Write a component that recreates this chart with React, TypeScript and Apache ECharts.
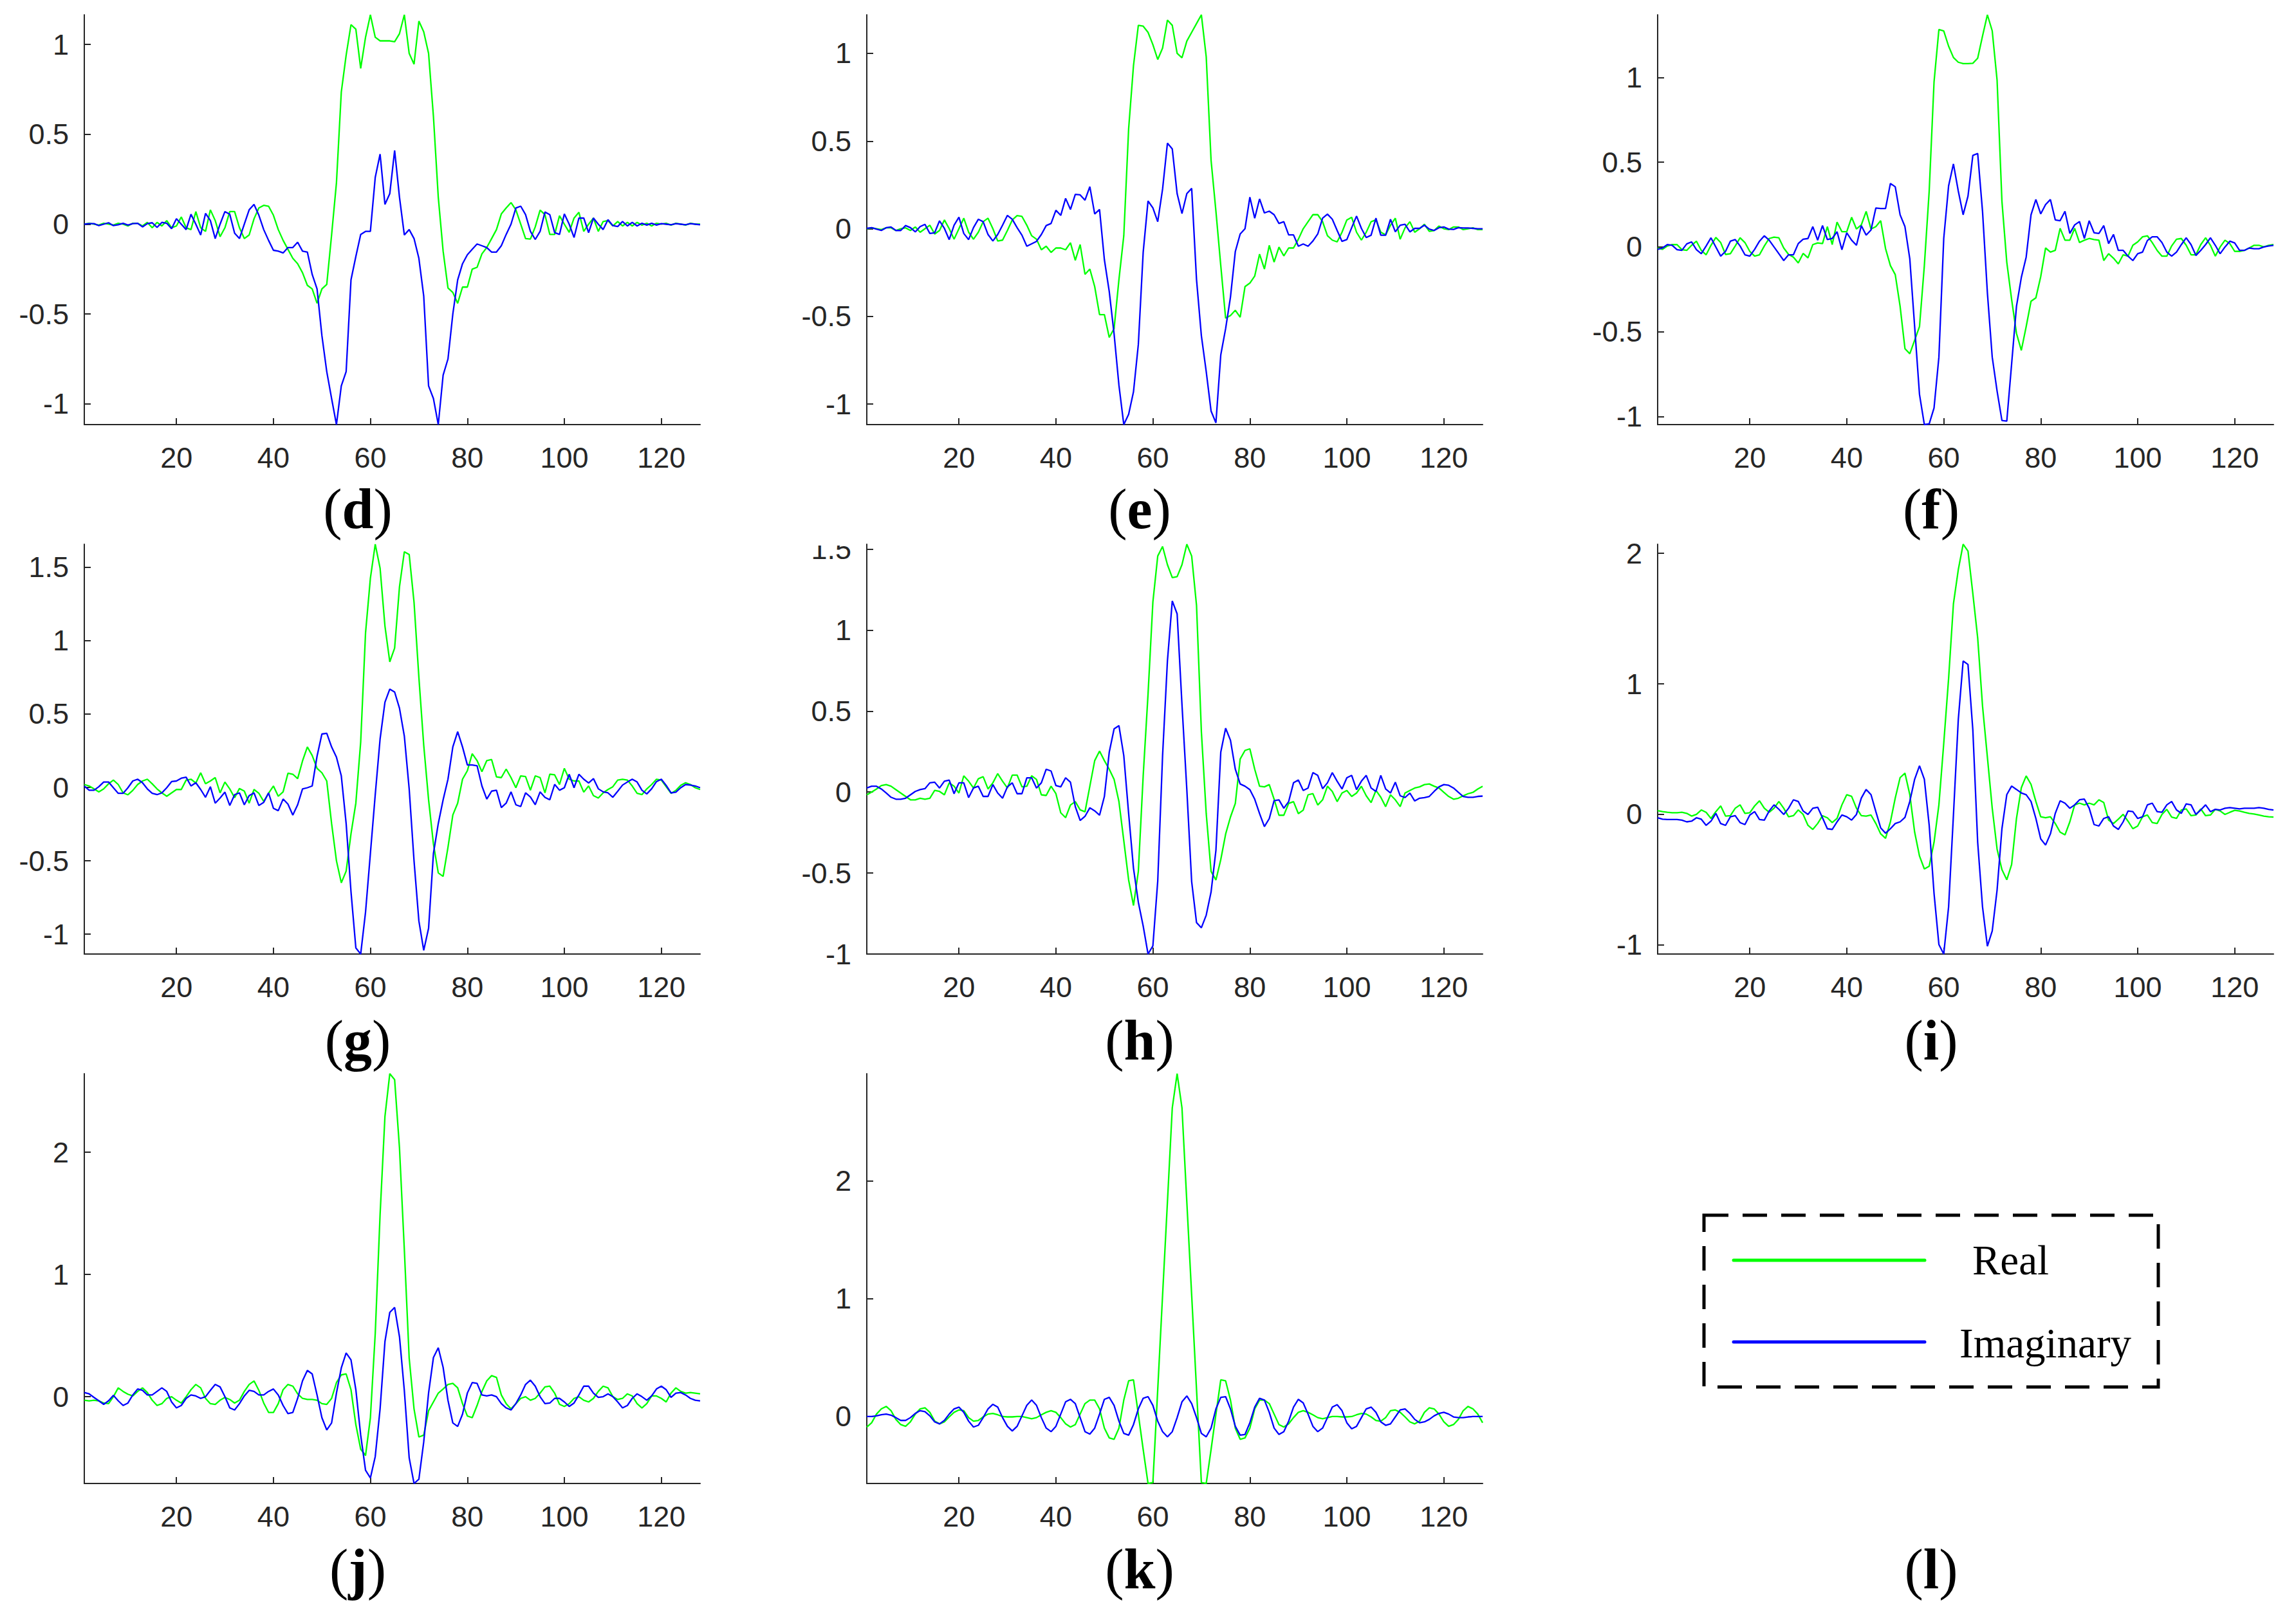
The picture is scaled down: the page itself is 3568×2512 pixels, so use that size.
import { useEffect, useRef } from "react";
import * as echarts from "echarts";

// ---- tick labels ----
const X_TICKS = [20, 40, 60, 80, 100, 120];
const Y_TICKS_A = [-1, -0.5, 0, 0.5, 1];
const Y_TICKS_B = [-1, -0.5, 0, 0.5, 1, 1.5];
const Y_TICKS_C = [-1, 0, 1, 2];
const Y_TICKS_D = [0, 1, 2];
const PANEL_LABELS = ["d", "e", "f", "g", "h", "i", "j", "k", "l"];
const LEGEND_NAMES = ["Real", "Imaginary"];

// ---- series values (index 1..128) ----
const dRe = [
  0, 0.005, 0, -0.005, 0.005, 0, -0.005, 0.005, 0, -0.01, 0.005, 0.005, -0.01, 0.01, -0.02, 0.01,
  -0.01, 0.02, -0.02, -0.01, 0.04, -0.02, -0.03, 0.07, -0.02, -0.04, 0.08, 0.02, -0.07, -0.02, 0.07, 0.07,
  -0.02, -0.08, -0.06, 0.03, 0.09, 0.105, 0.1, 0.05, -0.03, -0.09, -0.14, -0.19, -0.22, -0.27, -0.34, -0.36,
  -0.44, -0.36, -0.335, -0.06, 0.23, 0.735, 0.94, 1.11, 1.085, 0.867, 1.04, 1.165, 1.04, 1.02, 1.02, 1.02,
  1.015, 1.06, 1.165, 0.95, 0.89, 1.13, 1.07, 0.95, 0.6, 0.15, -0.15, -0.355, -0.38, -0.44, -0.35, -0.35,
  -0.25, -0.24, -0.165, -0.13, -0.08, -0.03, 0.057, 0.09, 0.12, 0.08, 0, -0.08, -0.083, -0.015, 0.078, 0.053,
  -0.057, -0.057, 0.047, 0, -0.045, 0.034, 0.066, -0.04, 0, 0.034, -0.04, 0.015, 0.02, -0.01, 0.015, -0.01,
  0.01, -0.01, 0.01, -0.005, 0.005, -0.01, 0.005, 0, 0.005, -0.005, 0.005, 0, -0.005, 0.005, 0, 0,
];
const dIm = [
  0, 0.003, 0.003, -0.008, 0, 0.008, -0.008, -0.003, 0.005, -0.005, 0.003, 0.005, -0.015, 0.003, 0.008, -0.018,
  0.01, 0.005, -0.025, 0.03, 0, -0.03, 0.055, 0, -0.06, 0.06, 0.02, -0.08, 0, 0.07, 0.055, -0.05,
  -0.08, 0, 0.08, 0.11, 0.05, -0.03, -0.09, -0.145, -0.15, -0.16, -0.13, -0.13, -0.1, -0.15, -0.155, -0.28,
  -0.36, -0.62, -0.82, -0.97, -1.115, -0.9, -0.82, -0.31, -0.18, -0.057, -0.04, -0.04, 0.26, 0.39, 0.11, 0.17,
  0.41, 0.15, -0.06, -0.03, -0.08, -0.19, -0.4, -0.9, -0.97, -1.115, -0.84, -0.75, -0.5, -0.31, -0.22, -0.17,
  -0.14, -0.11, -0.12, -0.13, -0.155, -0.155, -0.12, -0.057, 0, 0.09, 0.1, 0.053, -0.04, -0.085, -0.04, 0.068,
  0.053, -0.047, -0.057, 0.057, 0, -0.074, 0.034, 0.034, -0.047, 0.034, 0, -0.03, 0.025, -0.008, -0.013, 0.015,
  -0.01, 0.01, -0.01, 0.005, -0.005, 0.005, -0.005, 0.003, 0, -0.003, 0.003, 0, -0.003, 0.003, 0, -0.003,
];
const eRe = [
  0, 0.005, 0, -0.005, 0.005, 0.005, -0.01, 0, 0.005, -0.01, 0.01, -0.02, 0, 0.02, -0.03, -0.01,
  0.05, 0, -0.06, 0, 0.06, -0.02, -0.06, -0.02, 0.04, 0.06, 0, -0.07, -0.065, -0.01, 0.05, 0.075,
  0.07, 0.02, -0.04, -0.06, -0.12, -0.1, -0.135, -0.11, -0.11, -0.12, -0.08, -0.18, -0.09, -0.26, -0.23, -0.33,
  -0.49, -0.49, -0.62, -0.57, -0.29, -0.04, 0.57, 0.93, 1.16, 1.155, 1.12, 1.05, 0.965, 1.03, 1.19, 1.16,
  1.0, 0.975, 1.07, 1.12, 1.17, 1.22, 0.98, 0.39, 0.1, -0.21, -0.51, -0.495, -0.465, -0.505, -0.33, -0.31,
  -0.27, -0.145, -0.23, -0.095, -0.19, -0.105, -0.155, -0.11, -0.11, -0.06, 0, 0.04, 0.08, 0.08, 0.04, -0.04,
  -0.065, -0.075, -0.02, 0.05, 0.065, -0.02, -0.065, -0.02, 0.04, 0.05, -0.02, -0.035, 0.02, 0.06, -0.06, 0.005,
  0.04, -0.02, 0, 0.025, -0.015, -0.01, 0.015, 0, -0.005, 0.01, 0.01, -0.005, 0, 0.005, -0.005, -0.005,
];
const eIm = [
  0.002, 0.006, -0.002, -0.01, 0.006, 0.01, -0.01, -0.01, 0.018, 0.006, -0.018, 0.012, 0.025, -0.027, -0.023, 0.045,
  0.002, -0.062, 0.02, 0.066, -0.027, -0.062, 0.006, 0.054, 0.04, -0.033, -0.07, -0.033, 0.02, 0.076, 0.054, 0.006,
  -0.037, -0.1, -0.086, -0.072, -0.033, 0.018, 0.03, 0.105, 0.076, 0.173, 0.11, 0.196, 0.193, 0.163, 0.24, 0.084,
  0.11, -0.177, -0.358, -0.6, -0.893, -1.117, -1.058, -0.93, -0.66, -0.134, 0.158, 0.119, 0.04, 0.226, 0.488, 0.455,
  0.2, 0.086, 0.2, 0.23, -0.29, -0.61, -0.815, -1.04, -1.107, -0.72, -0.57, -0.39, -0.13, -0.03, 0, 0.18,
  0.06, 0.17, 0.09, 0.1, 0.08, 0.03, 0.04, -0.035, -0.035, -0.1, -0.087, -0.1, -0.07, -0.03, 0.06, 0.083,
  0.054, -0.01, -0.072, -0.062, 0.006, 0.072, 0.002, -0.05, -0.037, 0.06, -0.037, -0.037, 0.054, -0.018, 0.02, 0.025,
  -0.018, 0.002, 0.002, 0.02, -0.002, -0.01, 0.006, 0.01, -0.002, -0.004, 0.006, 0.004, 0.004, 0.002, 0, 0,
];
const fRe = [
  -0.006, -0.014, 0.006, 0.014, 0.014, -0.016, -0.02, 0.01, 0.034, -0.02, -0.046, 0.01, 0.056, 0.026, -0.044, -0.04,
  0.006, 0.054, 0.026, -0.026, -0.054, -0.046, 0.006, 0.05, 0.058, 0.054, -0.006, -0.044, -0.06, -0.094, -0.038, -0.064,
  0.014, 0.024, 0.02, 0.12, 0.014, 0.147, 0.09, 0.09, 0.175, 0.106, 0.13, 0.21, 0.106, 0.12, 0.155, -0.01,
  -0.11, -0.163, -0.35, -0.6, -0.63, -0.55, -0.47, -0.11, 0.33, 0.974, 1.283, 1.275, 1.185, 1.118, 1.09, 1.082,
  1.082, 1.084, 1.114, 1.245, 1.37, 1.275, 0.984, 0.27, -0.09, -0.31, -0.51, -0.61, -0.47, -0.32, -0.3, -0.175,
  -0.006, -0.03, -0.02, 0.11, 0.04, 0.04, 0.11, 0.026, 0.04, 0.05, 0.044, 0.04, -0.08, -0.04, -0.066, -0.1,
  -0.046, -0.054, 0.01, 0.03, 0.06, 0.066, 0.026, -0.02, -0.054, -0.054, 0.006, 0.046, 0.05, 0.01, -0.046, -0.046,
  0.014, 0.054, 0.01, -0.054, 0, 0.04, 0.02, -0.026, -0.026, -0.02, -0.006, 0.01, 0.01, 0, 0.01, 0.014,
];
const fIm = [
  -0.014, -0.006, 0.014, 0.01, -0.016, -0.02, 0.018, 0.03, -0.016, -0.04, 0.006, 0.054, 0, -0.054, -0.026, 0.034,
  0.044, 0.006, -0.046, -0.054, -0.014, 0.034, 0.066, 0.04, 0, -0.04, -0.08, -0.046, -0.046, 0.02, 0.046, 0.05,
  0.12, 0.04, 0.126, 0.044, 0.05, 0.09, -0.016, 0.084, 0.04, 0.01, 0.126, 0.07, 0.1, 0.23, 0.227, 0.227,
  0.375, 0.355, 0.19, 0.12, -0.07, -0.47, -0.87, -1.048, -1.044, -0.95, -0.65, 0.05, 0.36, 0.49, 0.33, 0.19,
  0.3, 0.54, 0.552, 0.21, -0.27, -0.65, -0.85, -1.024, -1.028, -0.69, -0.35, -0.18, -0.06, 0.19, 0.28, 0.195,
  0.25, 0.28, 0.16, 0.155, 0.21, 0.08, 0.13, 0.15, 0.05, 0.155, 0.084, 0.08, 0.126, 0.02, 0.074, -0.02,
  -0.02, -0.054, -0.08, -0.04, -0.03, 0.038, 0.06, 0.06, 0.026, -0.03, -0.054, -0.03, 0.014, 0.054, 0.014, -0.05,
  -0.02, 0.014, 0.054, 0.01, -0.04, 0, 0.034, 0.024, -0.02, -0.02, -0.006, -0.01, -0.01, 0, 0.006, 0.01,
];
const gRe = [
  0.02, 0.01, -0.01, -0.03, -0.01, 0.025, 0.05, 0.02, -0.037, -0.05, -0.02, 0.02, 0.044, 0.056, 0.025, -0.01,
  -0.037, -0.06, -0.037, -0.014, -0.014, 0.05, 0.056, 0.03, 0.1, 0.025, 0.044, 0.067, -0.037, 0.037, -0.01, -0.07,
  -0.007, -0.025, -0.107, -0.014, -0.04, -0.095, -0.04, 0.01, -0.06, -0.03, 0.097, 0.09, 0.06, 0.18, 0.276, 0.218,
  0.13, 0.1, 0.044, -0.246, -0.5, -0.65, -0.57, -0.316, -0.107, 0.31, 1.053, 1.425, 1.657, 1.494, 1.1, 0.856,
  0.95, 1.367, 1.606, 1.587, 1.262, 0.75, 0.288, -0.084, -0.385, -0.582, -0.606, -0.408, -0.188, -0.107, 0.056, 0.114,
  0.23, 0.183, 0.107, 0.183, 0.19, 0.072, 0.067, 0.125, 0.067, -0.002, 0.079, 0.074, -0.019, 0.079, 0.067, -0.037,
  0.09, 0.086, 0.02, 0.13, 0.056, 0.044, 0.044, -0.032, 0.01, -0.056, -0.072, -0.037, -0.014, 0.005, 0.05, 0.056,
  0.05, 0.01, -0.04, -0.049, -0.01, 0.02, 0.056, 0.05, 0.005, -0.04, -0.02, 0.014, 0.032, 0.02, -0.002, -0.014,
];
const gIm = [
  0.01, -0.019, -0.019, 0.005, 0.037, 0.037, -0.002, -0.04, -0.04, -0.002, 0.044, 0.056, 0.032, -0.01, -0.04, -0.049,
  -0.037, -0.002, 0.04, 0.044, 0.063, 0.07, 0.01, 0.032, -0.014, -0.067, 0.005, -0.107, -0.072, -0.032, -0.123, -0.049,
  -0.037, -0.118, -0.056, -0.037, -0.123, -0.102, -0.037, -0.142, -0.158, -0.079, -0.114, -0.188, -0.118, -0.01, -0.002, 0.01,
  0.213, 0.364, 0.369, 0.276, 0.206, 0.079, -0.246, -0.71, -1.093, -1.135, -0.85, -0.45, -0.05, 0.33, 0.58, 0.67,
  0.65, 0.54, 0.35, -0.01, -0.5, -0.91, -1.11, -0.96, -0.45, -0.246, -0.084, 0.056, 0.276, 0.38, 0.276, 0.153,
  0.153, 0.148, 0.01, -0.079, -0.025, -0.019, -0.137, -0.107, -0.03, -0.118, -0.13, -0.037, -0.065, -0.118, -0.03, -0.068,
  -0.084, 0.021, -0.019, -0.002, 0.09, -0.002, 0.09, 0.056, 0.03, 0.06, -0.009, -0.03, -0.037, -0.067, -0.026, 0.016,
  0.037, 0.056, 0.037, -0.019, -0.044, -0.009, 0.04, 0.056, 0.014, -0.037, -0.032, -0.002, 0.02, 0.016, 0.01, -0.002,
];
const hRe = [
  -0.017, 0, 0.019, 0.04, 0.046, 0.036, 0.015, -0.006, -0.027, -0.048, -0.048, -0.038, -0.044, -0.038, 0.01, 0.004,
  -0.017, 0.057, 0.036, -0.006, 0.1, 0.067, 0.025, 0.082, 0.095, 0.019, 0.057, 0.114, 0.067, 0.025, 0.105, 0.105,
  0.032, 0.036, 0.1, 0.078, -0.017, -0.021, 0.036, -0.01, -0.128, -0.158, -0.08, -0.059, -0.11, -0.122, 0.036, 0.194,
  0.253, 0.194, 0.141, 0.078, -0.059, -0.3, -0.543, -0.7, -0.49, 0.1, 0.604, 1.173, 1.457, 1.516, 1.404, 1.324,
  1.33, 1.404, 1.53, 1.457, 1.152, 0.373, -0.133, -0.49, -0.543, -0.417, -0.26, -0.154, -0.07, 0.204, 0.257, 0.267,
  0.141, 0.036, 0.032, 0.046, -0.044, -0.143, -0.143, -0.07, -0.059, -0.133, -0.112, -0.017, -0.01, -0.08, -0.048, 0.036,
  0.004, -0.059, -0.006, 0.01, -0.027, -0.006, 0.036, -0.023, -0.065, 0.01, -0.032, -0.09, -0.017, -0.048, -0.09, -0.006,
  0.01, 0.025, 0.032, 0.046, 0.05, 0.036, 0.025, -0.002, -0.027, -0.044, -0.038, -0.023, -0.01, -0.002, 0.019, 0.036,
];
const hIm = [
  0.025, 0.036, 0.036, 0.019, -0.006, -0.032, -0.044, -0.044, -0.038, -0.017, 0.004, 0.015, 0.021, 0.057, 0.061, 0.025,
  0.067, 0.074, -0.01, 0.057, 0.057, -0.034, 0.025, 0.036, -0.027, -0.027, 0.046, -0.006, -0.038, 0.032, 0.057, -0.01,
  -0.01, 0.088, 0.088, 0.025, 0.057, 0.141, 0.13, 0.04, 0.032, 0.088, 0.061, -0.09, -0.175, -0.15, -0.097, -0.116,
  -0.143, -0.027, 0.246, 0.39, 0.41, 0.225, -0.133, -0.47, -0.68, -0.827, -1.0, -0.95, -0.55, 0.225, 0.81, 1.18,
  1.1, 0.54, 0.015, -0.554, -0.806, -0.838, -0.76, -0.617, -0.36, 0.246, 0.394, 0.32, 0.141, 0.05, 0.036, 0.015,
  -0.044, -0.133, -0.213, -0.164, -0.053, -0.048, -0.1, -0.059, 0.057, 0.074, 0.01, 0.025, 0.12, 0.103, 0.021, 0.057,
  0.12, 0.067, 0.019, 0.088, 0.103, 0.015, 0.067, 0.103, 0.025, 0.004, 0.103, 0.019, -0.006, 0.061, -0.023, -0.034,
  -0.006, -0.055, -0.038, -0.034, -0.027, 0.004, 0.032, 0.046, 0.042, 0.025, -0.002, -0.027, -0.032, -0.032, -0.027, -0.025,
];
const iRe = [
  0.029, 0.021, 0.016, 0.013, 0.013, 0.016, 0.008, -0.013, 0, 0.034, 0.016, -0.031, 0.021, 0.065, -0.013, -0.01,
  0.047, 0.073, 0.008, 0.013, 0.065, 0.104, 0.047, 0.016, 0.047, 0.099, 0.047, -0.018, -0.01, 0.034, 0, -0.084,
  -0.115, -0.07, -0.01, -0.026, -0.063, -0.031, 0.073, 0.151, 0.138, 0.047, -0.01, -0.013, -0.005, -0.07, -0.149, -0.183,
  -0.057, 0.125, 0.282, 0.316, 0.151, -0.136, -0.319, -0.418, -0.397, -0.214, 0.073, 0.543, 1.04, 1.614, 1.875, 2.07,
  2.018, 1.692, 1.352, 0.83, 0.439, 0.047, -0.266, -0.423, -0.501, -0.384, -0.031, 0.204, 0.295, 0.23, 0.099, -0.018,
  -0.026, -0.018, -0.07, -0.136, -0.157, -0.057, 0.073, 0.086, 0.073, 0.086, 0.073, 0.112, 0.091, -0.044, -0.07, -0.037,
  0, -0.052, -0.11, -0.089, -0.018, -0.005, -0.063, -0.07, 0, 0.039, -0.021, -0.031, 0.034, 0.042, -0.01, -0.005,
  0.042, -0.01, -0.005, 0.039, 0.026, 0, 0.016, 0.031, 0.026, 0.016, 0.008, 0.003, -0.005, -0.013, -0.018, -0.021,
];
const iIm = [
  -0.026, -0.037, -0.039, -0.039, -0.039, -0.044, -0.057, -0.052, -0.026, -0.037, -0.084, -0.052, 0.008, -0.07, -0.084, -0.018,
  -0.01, -0.063, -0.078, -0.005, 0.021, -0.039, -0.044, 0.026, 0.073, 0.039, 0, 0.047, 0.112, 0.099, 0.026, 0,
  0.047, 0.055, -0.026, -0.11, -0.115, -0.057, -0.005, -0.018, -0.044, 0, 0.125, 0.191, 0.151, 0.021, -0.104, -0.144,
  -0.11, -0.07, -0.057, -0.023, 0.099, 0.269, 0.373, 0.269, -0.084, -0.606, -0.997, -1.07, -0.71, -0.005, 0.726, 1.175,
  1.149, 0.648, -0.214, -0.71, -1.01, -0.893, -0.58, -0.11, 0.151, 0.217, 0.191, 0.164, 0.151, 0.099, -0.031, -0.188,
  -0.235, -0.149, 0.008, 0.104, 0.086, 0.047, 0.073, 0.112, 0.117, 0.047, -0.078, -0.089, -0.031, -0.018, -0.089, -0.115,
  -0.057, 0.026, 0.021, -0.031, -0.018, 0.073, 0.086, 0.021, 0.016, 0.073, 0.099, 0.034, 0.008, 0.081, 0.073, 0,
  0.034, 0.073, 0.021, 0.039, 0.034, 0.047, 0.052, 0.047, 0.042, 0.047, 0.047, 0.047, 0.052, 0.047, 0.039, 0.034,
];
const jRe = [
  -0.029, -0.034, -0.029, -0.034, -0.052, -0.057, 0, 0.072, 0.043, 0.02, 0.006, 0.043, 0.072, 0.034, -0.029, -0.072,
  -0.057, -0.014, 0, -0.029, -0.052, 0, 0.057, 0.1, 0.072, -0.014, -0.057, -0.063, -0.029, -0.006, -0.023, -0.052,
  -0.029, 0.043, 0.1, 0.129, 0.052, -0.052, -0.129, -0.129, -0.057, 0.057, 0.1, 0.086, 0.023, -0.014, -0.023, -0.023,
  -0.029, -0.057, -0.063, -0.014, 0.115, 0.178, 0.186, 0.057, -0.229, -0.43, -0.481, -0.172, 0.516, 1.49, 2.292, 2.642,
  2.593, 2.034, 1.203, 0.315, -0.1, -0.33, -0.315, -0.115, -0.043, 0.029, 0.063, 0.1, 0.109, 0.072, -0.057, -0.158,
  -0.172, -0.072, 0.043, 0.129, 0.172, 0.158, 0.014, -0.057, -0.1, -0.057, -0.014, 0, -0.029, -0.014, 0.029, 0.08,
  0.086, 0.029, -0.063, -0.08, -0.057, -0.014, 0, -0.029, -0.043, -0.014, 0.043, 0.086, 0.072, 0, -0.023, -0.014,
  0.023, 0.006, -0.057, -0.092, -0.057, 0.006, 0.006, -0.014, -0.043, 0.029, 0.072, 0.043, 0.029, 0.034, 0.029, 0.023,
];
const jIm = [
  0.034, 0.023, -0.006, -0.034, -0.063, -0.034, 0.011, -0.034, -0.072, -0.052, 0.014, 0.063, 0.052, 0.014, 0.014, 0.043,
  0.072, 0.043, -0.043, -0.092, -0.072, -0.014, 0.014, 0.006, -0.014, 0, 0.052, 0.1, 0.08, 0, -0.092, -0.109,
  -0.057, 0.006, 0.052, 0.043, 0.014, 0.014, 0.043, 0.063, 0.014, -0.072, -0.138, -0.129, -0.014, 0.129, 0.215, 0.186,
  0.014, -0.172, -0.272, -0.215, 0.029, 0.235, 0.358, 0.301, 0.057, -0.315, -0.602, -0.665, -0.49, -0.1, 0.45, 0.69,
  0.73, 0.49, 0.05, -0.5, -0.71, -0.675, -0.37, 0.03, 0.32, 0.4, 0.24, -0.03, -0.215, -0.244, -0.143, 0.03,
  0.115, 0.109, 0.014, 0.006, 0.014, 0, -0.057, -0.092, -0.109, -0.057, 0.014, 0.1, 0.135, 0.086, 0, -0.057,
  -0.052, -0.014, -0.014, -0.043, -0.08, -0.052, 0.014, 0.086, 0.086, 0.029, -0.006, 0, 0.023, 0, -0.043, -0.092,
  -0.072, -0.014, 0.023, 0, -0.029, 0.006, 0.063, 0.086, 0.057, -0.006, 0.029, 0.034, 0.014, -0.014, -0.029, -0.034,
];
const kRe = [
  -0.089, -0.053, 0.021, 0.065, 0.086, 0.05, -0.024, -0.068, -0.083, -0.045, 0.021, 0.065, 0.074, 0.036, -0.039, -0.062,
  -0.045, -0.003, 0.036, 0.056, 0.05, -0.009, -0.039, -0.033, -0.003, 0.021, 0.027, 0.015, 0, -0.003, -0.003, 0,
  0, -0.009, -0.018, -0.009, 0.015, 0.036, 0.05, 0.036, -0.009, -0.062, -0.089, -0.068, 0.021, 0.11, 0.14, 0.14,
  0.065, -0.098, -0.181, -0.193, -0.098, 0.14, 0.303, 0.312, 0.02, -0.28, -0.568, -0.56, 0.23, 1.03, 1.82, 2.62,
  2.91, 2.62, 1.82, 1.03, 0.23, -0.56, -0.568, -0.28, 0.02, 0.312, 0.303, 0.14, -0.098, -0.193, -0.181, -0.098,
  0.065, 0.14, 0.14, 0.11, 0.021, -0.068, -0.089, -0.062, -0.009, 0.036, 0.05, 0.036, 0.015, -0.009, -0.018, -0.009,
  0, 0, -0.003, -0.003, 0, 0.015, 0.027, 0.021, -0.003, -0.033, -0.039, -0.009, 0.05, 0.056, 0.036, -0.003,
  -0.045, -0.062, -0.039, 0.036, 0.074, 0.065, 0.021, -0.045, -0.083, -0.068, -0.024, 0.05, 0.086, 0.065, 0.021, -0.053,
];
const kIm = [
  0, 0, 0.006, 0.015, 0.021, 0.012, -0.009, -0.033, -0.033, -0.009, 0.027, 0.05, 0.042, 0.006, -0.045, -0.062,
  -0.033, 0.021, 0.065, 0.08, 0.036, -0.039, -0.089, -0.074, -0.009, 0.065, 0.104, 0.08, -0.009, -0.083, -0.122, -0.083,
  0.006, 0.095, 0.14, 0.095, -0.009, -0.098, -0.128, -0.083, 0.021, 0.125, 0.146, 0.11, -0.009, -0.128, -0.149, -0.098,
  0.021, 0.146, 0.163, 0.095, -0.039, -0.143, -0.158, -0.068, 0.065, 0.155, 0.169, 0.095, -0.039, -0.128, -0.172, -0.128,
  -0.009, 0.125, 0.175, 0.11, -0.009, -0.143, -0.172, -0.098, 0.065, 0.163, 0.169, 0.065, -0.083, -0.158, -0.152, -0.053,
  0.08, 0.155, 0.14, 0.036, -0.098, -0.152, -0.128, -0.039, 0.08, 0.146, 0.116, 0.021, -0.083, -0.128, -0.098, -0.009,
  0.08, 0.101, 0.05, -0.053, -0.104, -0.083, -0.009, 0.065, 0.08, 0.036, -0.045, -0.074, -0.062, -0.003, 0.056, 0.065,
  0.027, -0.024, -0.053, -0.045, -0.024, 0.006, 0.027, 0.036, 0.021, -0.003, -0.009, -0.009, -0.003, 0, 0, 0,
];

const PANELS = [
  { re: dRe, im: dIm, yTicks: Y_TICKS_A },
  { re: eRe, im: eIm, yTicks: Y_TICKS_A },
  { re: fRe, im: fIm, yTicks: Y_TICKS_A },
  { re: gRe, im: gIm, yTicks: Y_TICKS_B },
  { re: hRe, im: hIm, yTicks: Y_TICKS_B },
  { re: iRe, im: iIm, yTicks: Y_TICKS_C },
  { re: jRe, im: jIm, yTicks: Y_TICKS_D },
  { re: kRe, im: kIm, yTicks: Y_TICKS_D },
];

// ---- layout (pixels) ----
const COL_LEFT = [131, 1347, 2576];
const ROW_TOP = [23, 846, 1669];
const PLOT_W = 957;
const PLOT_H = 637;
const LABEL_X = [556, 1771, 3001];
const LABEL_Y = [791, 1617, 2439];

const GREEN = "#00FF00";
const BLUE = "#0000FF";
const AXIS = "#262626";
const SANS = "Liberation Sans, Arial, Helvetica, sans-serif";
const SERIF = "Liberation Serif, Times New Roman, serif";

export default function App() {
  const ref = useRef<HTMLDivElement>(null);

  useEffect(() => {
    document.body.style.margin = "0";
    const chart = echarts.init(ref.current as HTMLDivElement, null, { renderer: "svg" });

    const grids: any[] = [];
    const xAxes: any[] = [];
    const yAxes: any[] = [];
    const series: any[] = [];
    const graphics: any[] = [];

    PANELS.forEach((p, k) => {
      const c = k % 3;
      const r = Math.floor(k / 3);
      grids.push({
        left: COL_LEFT[c],
        top: ROW_TOP[r],
        width: PLOT_W,
        height: PLOT_H,
        containLabel: false,
        outerBoundsMode: "none",
      });
      const all = p.re.concat(p.im);
      const yMin = Math.min(...all);
      const yMax = Math.max(...all);
      xAxes.push({
        gridIndex: k,
        type: "value",
        min: 1,
        max: 128,
        axisLine: { show: true, onZero: false, lineStyle: { color: AXIS, width: 2 } },
        axisTick: {
          show: true,
          inside: true,
          length: 10,
          lineStyle: { color: AXIS, width: 2 },
          customValues: X_TICKS,
        },
        axisLabel: {
          show: true,
          customValues: X_TICKS,
          margin: 29,
          fontSize: 45,
          color: AXIS,
          fontFamily: SANS,
        },
        splitLine: { show: false },
      });
      yAxes.push({
        gridIndex: k,
        type: "value",
        min: yMin,
        max: yMax,
        axisLine: { show: true, onZero: false, lineStyle: { color: AXIS, width: 2 } },
        axisTick: {
          show: true,
          inside: true,
          length: 10,
          lineStyle: { color: AXIS, width: 2 },
          customValues: p.yTicks,
        },
        axisLabel: {
          show: true,
          customValues: p.yTicks,
          margin: 24,
          fontSize: 45,
          color: AXIS,
          fontFamily: SANS,
          formatter: (v: number) => String(v),
        },
        splitLine: { show: false },
      });
      series.push({
        name: LEGEND_NAMES[0],
        type: "line",
        xAxisIndex: k,
        yAxisIndex: k,
        data: p.re.map((v, i) => [i + 1, v]),
        showSymbol: false,
        symbol: "none",
        color: GREEN,
        lineStyle: { color: GREEN, width: 2.3 },
        silent: true,
        z: 2,
      });
      series.push({
        name: LEGEND_NAMES[1],
        type: "line",
        xAxisIndex: k,
        yAxisIndex: k,
        data: p.im.map((v, i) => [i + 1, v]),
        showSymbol: false,
        symbol: "none",
        color: BLUE,
        lineStyle: { color: BLUE, width: 2.3 },
        silent: true,
        z: 3,
      });
    });

    PANEL_LABELS.forEach((lab, k) => {
      const c = k % 3;
      const r = Math.floor(k / 3);
      graphics.push({
        type: "text",
        x: LABEL_X[c],
        y: LABEL_Y[r],
        z: 50,
        style: {
          text: `{p|(}{b|${lab}}{p|)}`,
          align: "center",
          verticalAlign: "middle",
          rich: {
            p: { fontFamily: SERIF, fontSize: 88, fill: "#000" },
            b: { fontFamily: SERIF, fontSize: 88, fontWeight: "bold", fill: "#000" },
          },
        },
      });
    });

    // the "1.5" label of panel (h) is cut at the top in the reference
    graphics.push({
      type: "rect",
      z: 100,
      shape: { x: 1258, y: 822, width: 82, height: 26 },
      style: { fill: "#ffffff" },
    });

    // legend box
    graphics.push({
      type: "rect",
      z: 50,
      shape: { x: 2648, y: 1889, width: 706, height: 267 },
      style: { fill: "none", stroke: "#000", lineWidth: 5, lineDash: [38, 22] },
    });
    graphics.push({
      type: "line",
      z: 50,
      shape: { x1: 2694, y1: 1959, x2: 2991, y2: 1959 },
      style: { stroke: GREEN, lineWidth: 5, lineCap: "round" },
    });
    graphics.push({
      type: "line",
      z: 50,
      shape: { x1: 2694, y1: 2086, x2: 2991, y2: 2086 },
      style: { stroke: BLUE, lineWidth: 5, lineCap: "round" },
    });
    graphics.push({
      type: "text",
      z: 50,
      x: 3065,
      y: 1959,
      style: {
        text: LEGEND_NAMES[0],
        fontFamily: SERIF,
        fontSize: 65,
        fill: "#000",
        align: "left",
        verticalAlign: "middle",
      },
    });
    graphics.push({
      type: "text",
      z: 50,
      x: 3045,
      y: 2088,
      style: {
        text: LEGEND_NAMES[1],
        fontFamily: SERIF,
        fontSize: 65,
        fill: "#000",
        align: "left",
        verticalAlign: "middle",
      },
    });

    chart.setOption({
      animation: false,
      backgroundColor: "#ffffff",
      grid: grids,
      xAxis: xAxes,
      yAxis: yAxes,
      series,
      graphic: graphics,
    });

    return () => {
      chart.dispose();
    };
  }, []);

  return <div ref={ref} style={{ width: 3568, height: 2512 }} />;
}
